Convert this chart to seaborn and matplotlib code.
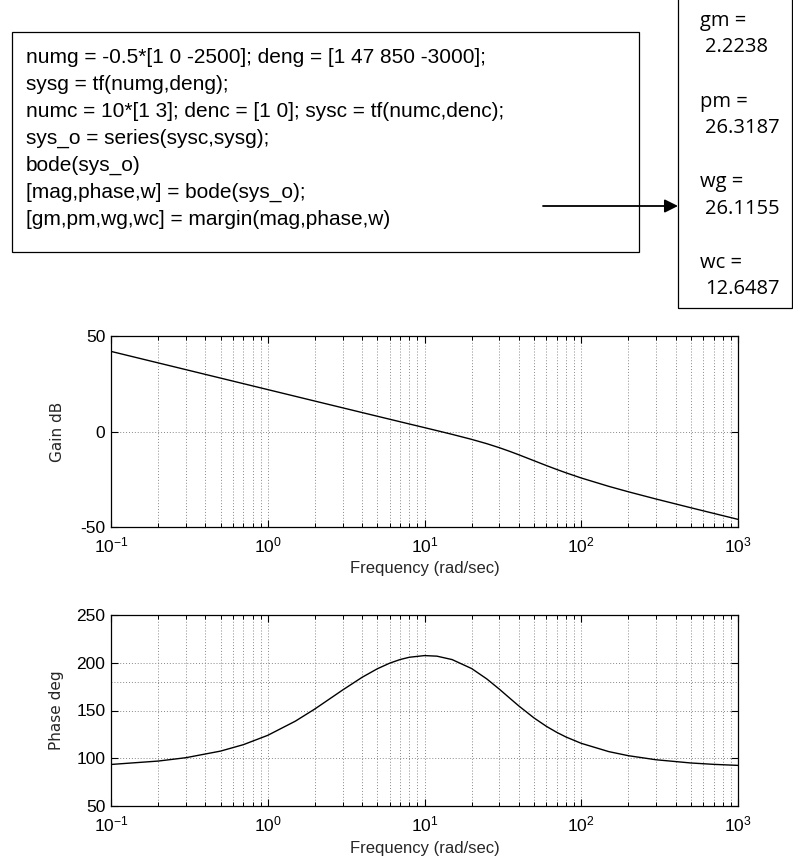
import numpy as np
import pandas as pd
import matplotlib
matplotlib.use("Agg")
import matplotlib.pyplot as plt
import seaborn as sns
from matplotlib.patches import Rectangle, FancyArrowPatch
from matplotlib.ticker import LogLocator, NullFormatter, FixedLocator

# ---------------- data ----------------
freq = [0.1, 0.2, 0.3, 0.5, 0.7, 1, 1.5, 2, 3, 4, 5, 6, 7, 8, 10, 12, 15, 20,
        25, 30, 35, 40, 50, 60, 70, 80, 100, 150, 200, 300, 500, 700, 1000]
gain_db = [41.94, 35.92, 32.40, 27.96, 25.04, 21.94, 18.42, 15.92, 12.41, 9.92,
           7.99, 6.42, 5.09, 3.94, 2.03, 0.46, -1.49, -4.13, -6.39, -8.47,
           -10.41, -12.20, -15.31, -17.85, -19.92, -21.64, -24.34, -28.73,
           -31.57, -35.35, -39.92, -42.88, -46.00]
phase_deg = [93.5, 97.05, 100.56, 107.49, 114.26, 124.0, 138.84, 151.65,
             171.39, 184.77, 193.69, 199.58, 203.4, 205.74, 207.5, 206.9,
             203.32, 193.90, 183.0, 172.39, 162.88, 154.72, 142.17, 133.36,
             127.0, 122.23, 115.62, 106.93, 102.66, 98.42, 95.05, 93.60, 92.52]
phase_ref = 180

code_lines = [
    "numg = -0.5*[1 0 -2500]; deng = [1 47 850 -3000];",
    "sysg = tf(numg,deng);",
    "numc = 10*[1 3]; denc = [1 0]; sysc = tf(numc,denc);",
    "sys_o = series(sysc,sysg);",
    "bode(sys_o)",
    "[mag,phase,w] = bode(sys_o);",
    "[gm,pm,wg,wc] = margin(mag,phase,w)",
]
margin_names = ["gm =", "pm =", "wg =", "wc ="]
margin_values = ["2.2238", "26.3187", "26.1155", "12.6487"]

gain_ticks = [-50, 0, 50]
phase_ticks = [50, 100, 150, 200, 250]
freq_ticks = [0.1, 1, 10, 100, 1000]
freq_tick_labels = [r"$\mathregular{10^{-1}}$", r"$\mathregular{10^{0}}$",
                    r"$\mathregular{10^{1}}$", r"$\mathregular{10^{2}}$",
                    r"$\mathregular{10^{3}}$"]
xlabel = "Frequency (rad/sec)"

# ---------------- style ----------------
sns.set_style("ticks")
NARROW = ["Liberation Sans", "DejaVu Sans"]
plt.rcParams["font.family"] = NARROW
plt.rcParams["mathtext.default"] = "regular"

W, H = 793, 860
fig = plt.figure(figsize=(W / 100, H / 100), dpi=100)


def fx(px):
    return px / W


def fy(py):
    return 1 - py / H


# code box
fig.patches.append(Rectangle((fx(12), fy(252)), (639 - 12) / W, (252 - 32) / H,
                             transform=fig.transFigure, fill=False,
                             ec="black", lw=0.9))
for i, line in enumerate(code_lines):
    fig.text(fx(26), fy(63 + 27 * i), line, ha="left", va="baseline",
             fontsize=15, color="black")

# result box
fig.patches.append(Rectangle((fx(678), fy(308)), (792 - 678) / W, (308 + 10) / H,
                             transform=fig.transFigure, fill=False,
                             ec="black", lw=0.9, clip_on=False))
for i, (n, v) in enumerate(zip(margin_names, margin_values)):
    base = 26 + 80.5 * i
    fig.text(fx(700), fy(base), n, ha="left", va="baseline", color="black",
             fontsize=14.5, family=["Open Sans", "DejaVu Sans"])
    fig.text(fx(705), fy(base + 26.5), v, ha="left", va="baseline",
             color="black", fontsize=14.5, family=["Open Sans", "DejaVu Sans"])

# arrow
fig.patches.append(FancyArrowPatch((fx(543), fy(206)), (fx(678), fy(206)),
                                   transform=fig.transFigure,
                                   arrowstyle="-|>", mutation_scale=20,
                                   lw=1.3, color="black", shrinkA=0, shrinkB=0))

df = pd.DataFrame({"freq": freq, "gain": gain_db, "phase": phase_deg})

ax1 = fig.add_axes([fx(111), fy(527), 627 / W, 191 / H])
ax2 = fig.add_axes([fx(111), fy(806), 627 / W, 191 / H])

for ax, col, ticks, lab in [(ax1, "gain", gain_ticks, "Gain dB"),
                            (ax2, "phase", phase_ticks, "Phase deg")]:
    sns.lineplot(data=df, x="freq", y=col, ax=ax, color="black", lw=1.0,
                 estimator=None, sort=False)
    ax.set_xscale("log")
    ax.set_xlim(freq_ticks[0], freq_ticks[-1])
    ax.set_ylim(ticks[0], ticks[-1])
    ax.xaxis.set_major_locator(FixedLocator(freq_ticks))
    ax.set_xticks(freq_ticks)
    ax.set_xticklabels(freq_tick_labels)
    ax.xaxis.set_minor_locator(LogLocator(base=10, subs=np.arange(2, 10)))
    ax.xaxis.set_minor_formatter(NullFormatter())
    ax.set_yticks(ticks)
    ax.set_yticklabels([str(t) for t in ticks])
    ax.grid(which="both", axis="x", ls=(0, (1, 2)), color="#888888", lw=0.7)
    ax.grid(which="major", axis="y", ls=(0, (1, 2)), color="#888888", lw=0.7)
    ax.tick_params(which="both", direction="in", top=True, right=True,
                   labelsize=12.5, colors="black")
    ax.tick_params(axis="x", which="major", pad=6)
    ax.tick_params(axis="y", which="major", pad=4)
    ax.tick_params(which="major", length=5, width=0.8)
    ax.tick_params(which="minor", length=3, width=0.7)
    for s in ax.spines.values():
        s.set_visible(True)
        s.set_linewidth(0.9)
        s.set_color("black")
    ax.set_xlabel(xlabel, fontsize=12, va="center")
    ax.xaxis.set_label_coords(0.5, -42 / 191)
    ax.set_ylabel(lab, fontsize=11, family=["DejaVu Sans"], va="center")
    ax.yaxis.set_label_coords(-(111 - 57) / 627, 0.5)
    ax.set_facecolor("white")

ax2.axhline(phase_ref, ls=(0, (1, 2)), color="#888888", lw=0.7, zorder=0)

fig.savefig("out.png", dpi=100, facecolor="white")
